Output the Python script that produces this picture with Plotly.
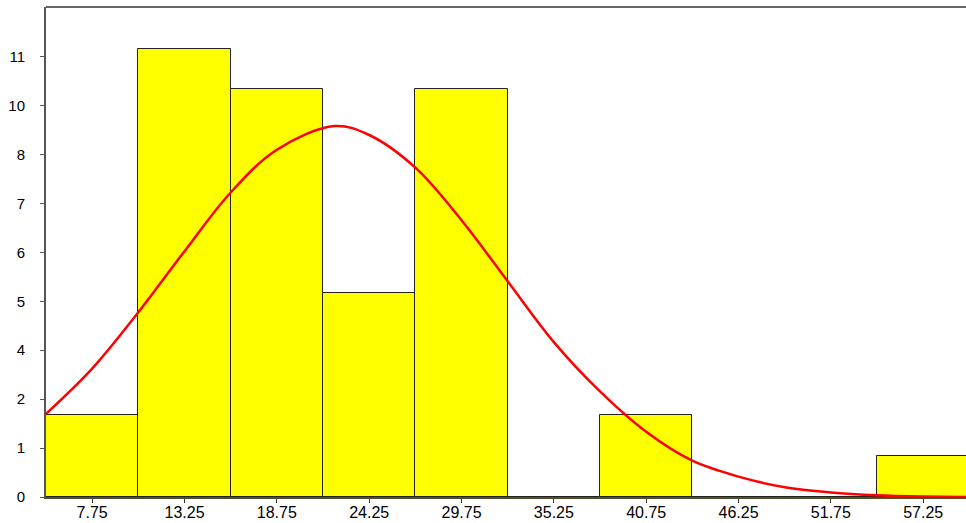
import plotly.graph_objects as go

# Histogram bins (centres) and counts
bin_centers = [7.75, 13.25, 18.75, 24.25, 29.75, 35.25, 40.75, 46.25, 51.75, 57.25]
counts = [2, 11, 10, 5, 10, 0, 2, 0, 0, 1]
bin_width = 5.5

# Fitted normal curve, sampled points
curve_x = [5.0, 7.75, 10.5, 13.25, 16.0, 18.75, 22.2, 24.25, 27.0, 29.75, 32.5,
           35.25, 38.0, 40.75, 43.5, 46.25, 49.0, 51.75, 54.5, 57.25, 59.8]
curve_y = [2.04, 3.15, 4.53, 6.03, 7.47, 8.52, 9.10, 8.88, 8.08, 6.79, 5.29,
           3.80, 2.59, 1.60, 0.89, 0.50, 0.24, 0.11, 0.04, 0.01, 0.0]

# Y-axis tick positions and their (rounded) labels
y_tickvals = [0, 1.2, 2.4, 3.6, 4.8, 6.0, 7.2, 8.4, 9.6, 10.8]
y_ticktext = ["0", "1", "2", "4", "5", "6", "7", "8", "10", "11"]

fig = go.Figure()

fig.add_trace(go.Bar(
    x=bin_centers,
    y=counts,
    width=bin_width,
    marker=dict(color="#FFFF00", line=dict(color="#222222", width=1)),
    hoverinfo="x+y",
))

fig.add_trace(go.Scatter(
    x=curve_x,
    y=curve_y,
    mode="lines",
    line=dict(color="#FF0000", width=2.5, shape="spline", smoothing=1.0),
    cliponaxis=True,
))

fig.update_layout(
    width=966,
    height=523,
    margin=dict(l=46, r=0, t=7, b=26),
    paper_bgcolor="white",
    plot_bgcolor="white",
    showlegend=False,
    bargap=0,
    font=dict(family="Liberation Sans, Arial, sans-serif", size=15, color="#000000"),
    xaxis=dict(
        range=[5, 59.8],
        tickmode="array",
        tickvals=bin_centers,
        ticktext=[f"{v:.2f}" for v in bin_centers],
        tickfont=dict(size=16),
        ticks="outside",
        ticklen=4,
        tickcolor="#333333",
        ticklabelstandoff=-4,
        showgrid=False,
        zeroline=False,
        showline=True,
        linecolor="#4f4f2a",
        linewidth=2,
    ),
    yaxis=dict(
        range=[0, 12.02],
        tickmode="array",
        tickvals=y_tickvals,
        ticktext=y_ticktext,
        ticks="outside",
        ticklen=4,
        tickcolor="#555555",
        ticklabelstandoff=12,
        showgrid=False,
        zeroline=False,
        showline=True,
        linecolor="#555555",
        linewidth=2,
    ),
    shapes=[dict(type="line", xref="paper", yref="paper", x0=0, x1=1, y0=1, y1=1,
                 line=dict(color="#666666", width=2))],
)

fig.write_html("out.html")
